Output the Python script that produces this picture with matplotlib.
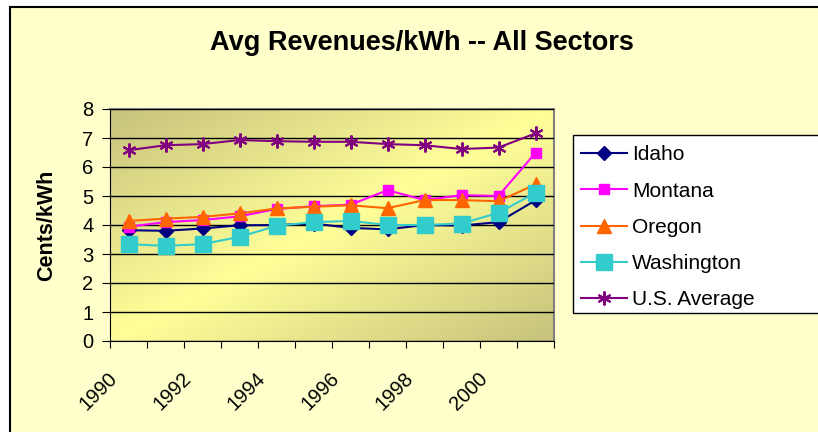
import numpy as np
import matplotlib
matplotlib.use("Agg")
import matplotlib.pyplot as plt
from matplotlib.patches import Rectangle
from matplotlib.colors import LinearSegmentedColormap

plt.rcParams['font.family'] = ['Liberation Sans', 'DejaVu Sans']

# ---- data (cents/kWh) ----
years = [1990, 1991, 1992, 1993, 1994, 1995, 1996, 1997, 1998, 1999, 2000, 2001]
idaho = [3.82, 3.80, 3.88, 3.99, 4.00, 4.05, 3.90, 3.85, 4.00, 3.98, 4.10, 4.85]
montana = [3.94, 4.10, 4.17, 4.30, 4.55, 4.65, 4.70, 5.20, 4.86, 5.03, 5.00, 6.49]
oregon = [4.14, 4.22, 4.28, 4.40, 4.57, 4.63, 4.68, 4.58, 4.86, 4.86, 4.82, 5.40]
washington = [3.34, 3.28, 3.34, 3.59, 3.97, 4.10, 4.14, 4.00, 4.00, 4.05, 4.42, 5.11]
us_avg = [6.58, 6.75, 6.79, 6.93, 6.89, 6.87, 6.87, 6.79, 6.75, 6.62, 6.67, 7.16]
year_labels = ['1990', '1992', '1994', '1996', '1998', '2000']

series = [
    ("Idaho", idaho, '#000080', 'D', 7.5, 1.5),
    ("Montana", montana, '#FF00FF', 's', 7, 1.5),
    ("Oregon", oregon, '#FF6600', '^', 10, 1.5),
    ("Washington", washington, '#33CCCC', 's', 12, 1.5),
    ("U.S. Average", us_avg, '#800080', (6, 2, 0), 10, 1.5),
]

W, H = 818, 432
fig = plt.figure(figsize=(W / 100, H / 100), dpi=100, facecolor='white')

# chart area frame (Excel style, runs off the right/bottom edge)
fig.patches.append(Rectangle((10 / W, -0.1), 1.2, 1.1 - 7 / H, transform=fig.transFigure,
                             facecolor='#FFFFCC', edgecolor='black', linewidth=1.5, zorder=-5))

ax = fig.add_axes([110 / W, 91 / H, 444 / W, 232 / H])
ax.set_zorder(1)
ax.set_facecolor('none')

# diagonal gradient in the plot area
xx, yy = np.meshgrid(np.linspace(0, 1, 300), np.linspace(1, 0, 200))
t = np.abs(xx - yy)
cmap = LinearSegmentedColormap.from_list('xl', ['#FFFF99', '#C6C27C'])
ax.imshow(t, extent=[0, 1, 0, 1], transform=ax.transAxes, cmap=cmap, vmin=0, vmax=1,
          aspect='auto', zorder=0, interpolation='bilinear')

x = np.arange(len(years))
for name, vals, col, mk, ms, lw in series:
    ax.plot(x, vals, color=col, marker=mk, markersize=ms, linewidth=lw,
            markeredgecolor=col, markerfacecolor=col, markeredgewidth=1.5 if mk == (6, 2, 0) else 1,
            label=name, zorder=3)

ax.set_xlim(-0.5, len(years) - 0.5)
ax.set_ylim(0, 8)
ax.set_yticks(range(0, 9))
ax.tick_params(axis='y', labelsize=14.5, length=6, pad=6, direction='out')
ax.yaxis.grid(True, color='black', linewidth=1)
ax.set_axisbelow(False)
for gl in ax.get_ygridlines():
    gl.set_zorder(1)

ax.set_xticks(np.arange(-0.5, len(years), 1.0))
ax.set_xticklabels([])
ax.tick_params(axis='x', length=5, direction='out')
for i, lab in enumerate(year_labels):
    ax.text(2 * i - 0.38, -0.15, lab, transform=ax.get_xaxis_transform(),
            rotation=45, rotation_mode='anchor', ha='right', va='center', fontsize=14.5)

for s in ['left', 'bottom']:
    ax.spines[s].set_color('black')
for s in ['top', 'right']:
    ax.spines[s].set_color('#808080')
    ax.spines[s].set_linewidth(1.5)

ax.set_ylabel("Cents/kWh", fontsize=15.5, fontweight='bold', labelpad=18)
fig.text(422 / W, 1 - 43 / H, "Avg Revenues/kWh -- All Sectors", ha='center', va='center',
         fontsize=19.5, fontweight='bold')

# legend box
fig.patches.append(Rectangle((573 / W, 1 - 313 / H), 0.5, 178 / H, transform=fig.transFigure,
                             facecolor='white', edgecolor='black', linewidth=1, zorder=2))
leg = fig.legend(loc='upper left', bbox_to_anchor=(575 / W, 1 - 139 / H), frameon=False,
                 fontsize=15, handlelength=2.2, handletextpad=0.25, labelspacing=0.83,
                 borderaxespad=0, borderpad=0.3)
leg.set_zorder(5)

fig.savefig("out.png", dpi=100, facecolor=fig.get_facecolor())
